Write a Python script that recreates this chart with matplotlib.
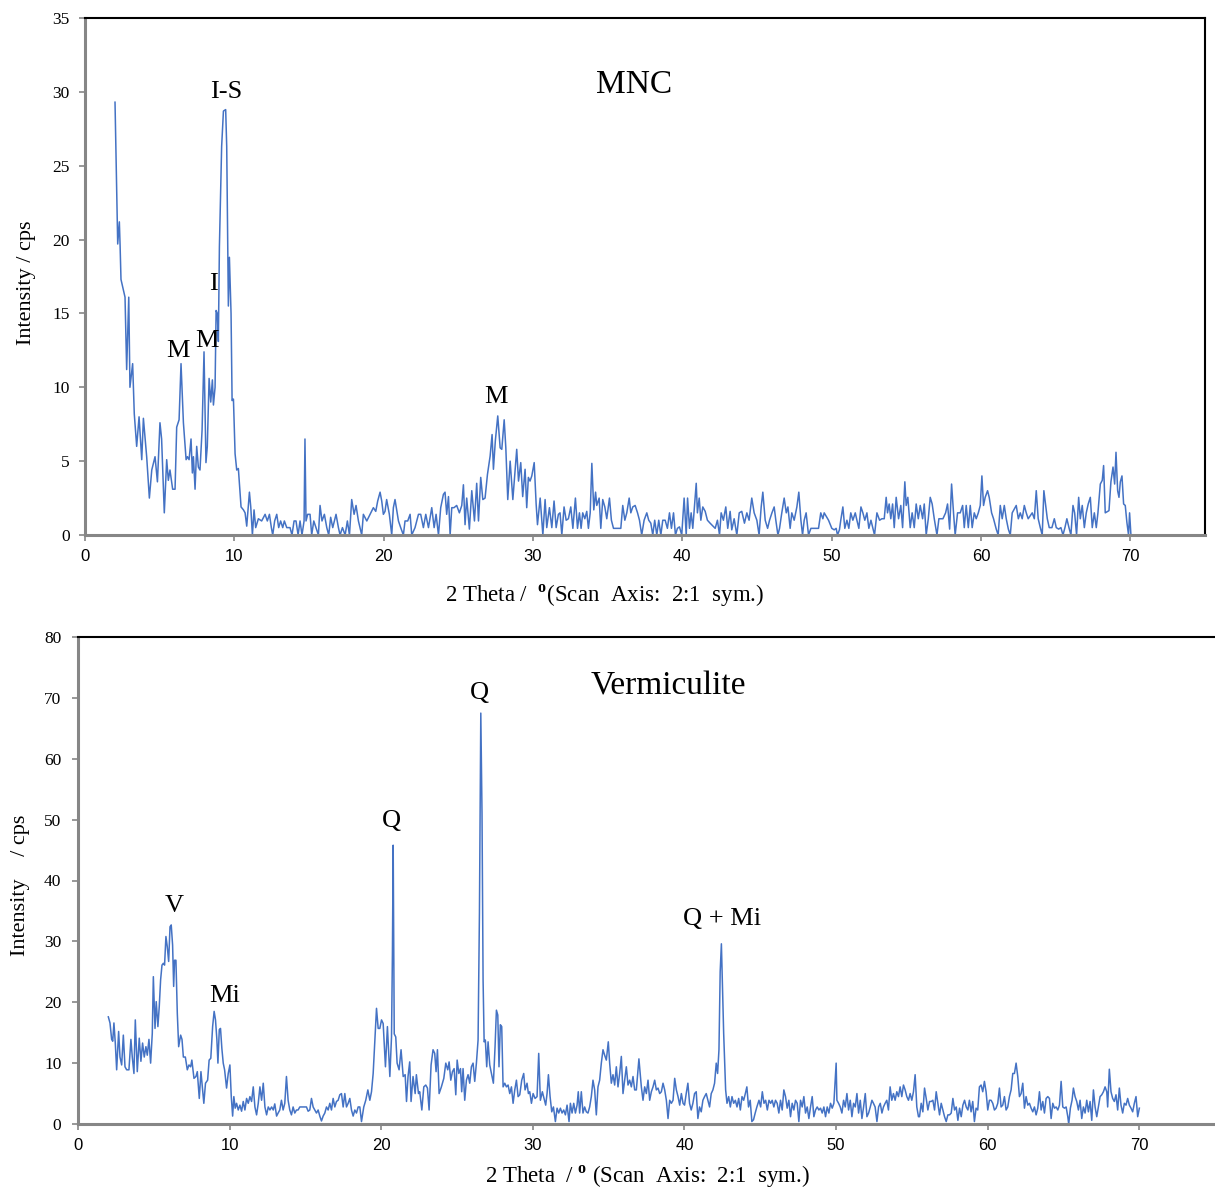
import matplotlib
matplotlib.use('Agg')
import matplotlib.pyplot as plt
import numpy as np

# MNC pattern
mnc_2theta = [
    2.01, 2.19, 2.30, 2.35, 2.41, 2.57, 2.68, 2.79, 2.93, 3.01,
    3.19, 3.30, 3.46, 3.62, 3.80, 3.91, 4.13, 4.31, 4.47, 4.69,
    4.85, 5.02, 5.13, 5.31, 5.47, 5.58, 5.69, 5.87, 6.03, 6.14,
    6.30, 6.43, 6.59, 6.77, 6.86, 6.97, 7.10, 7.19, 7.26, 7.37,
    7.48, 7.59, 7.70, 7.84, 7.97, 8.10, 8.19, 8.31, 8.42, 8.53,
    8.60, 8.71, 8.78, 8.86, 8.93, 9.00, 9.15, 9.27, 9.42, 9.49,
    9.60, 9.67, 9.78, 9.85, 9.94, 10.05, 10.16, 10.27, 10.45, 10.61,
    10.72, 10.83, 11.01, 11.10, 11.21, 11.32, 11.43, 11.61, 11.83, 12.06,
    12.21, 12.35, 12.48, 12.57, 12.70, 12.84, 12.97, 13.10, 13.24, 13.35,
    13.51, 13.73, 13.86, 14.00, 14.13, 14.27, 14.40, 14.53, 14.67, 14.73,
    14.80, 14.91, 15.07, 15.18, 15.32, 15.47, 15.63, 15.74, 15.87, 16.03,
    16.19, 16.32, 16.45, 16.59, 16.81, 16.97, 17.08, 17.24, 17.42, 17.57,
    17.71, 17.86, 18.02, 18.15, 18.31, 18.53, 18.64, 18.87, 19.09, 19.31,
    19.47, 19.60, 19.76, 19.87, 19.98, 20.09, 20.20, 20.38, 20.54, 20.65,
    20.76, 20.99, 21.14, 21.32, 21.43, 21.61, 21.77, 21.88, 22.10, 22.33,
    22.48, 22.66, 22.82, 23.00, 23.22, 23.38, 23.51, 23.67, 23.82, 24.00,
    24.11, 24.22, 24.34, 24.45, 24.56, 24.71, 24.89, 25.07, 25.23, 25.34,
    25.45, 25.56, 25.74, 25.90, 26.08, 26.23, 26.35, 26.50, 26.64, 26.79,
    26.95, 27.13, 27.26, 27.35, 27.48, 27.64, 27.80, 27.91, 28.07, 28.18,
    28.31, 28.47, 28.65, 28.91, 29.03, 29.18, 29.31, 29.47, 29.58, 29.69,
    29.80, 29.92, 30.08, 30.21, 30.30, 30.48, 30.66, 30.81, 30.92, 31.10,
    31.26, 31.41, 31.55, 31.70, 31.81, 31.93, 32.08, 32.22, 32.37, 32.53,
    32.67, 32.84, 32.98, 33.11, 33.22, 33.33, 33.47, 33.60, 33.71, 33.83,
    33.94, 34.07, 34.19, 34.27, 34.43, 34.54, 34.67, 34.81, 34.94, 35.12,
    35.25, 35.39, 35.88, 36.01, 36.15, 36.28, 36.44, 36.55, 36.68, 36.84,
    37.00, 37.13, 37.28, 37.44, 37.62, 37.75, 37.89, 38.02, 38.15, 38.29,
    38.42, 38.56, 38.69, 38.85, 39.00, 39.14, 39.27, 39.41, 39.54, 39.67,
    39.81, 39.96, 40.12, 40.26, 40.35, 40.48, 40.59, 40.70, 40.93, 41.01,
    41.13, 41.24, 41.37, 41.53, 41.68, 41.86, 42.20, 42.35, 42.49, 42.60,
    42.75, 42.91, 43.04, 43.20, 43.31, 43.47, 43.65, 43.81, 43.98, 44.16,
    44.32, 44.47, 44.65, 44.81, 44.99, 45.14, 45.28, 45.39, 45.55, 45.71,
    45.84, 46.00, 46.15, 46.26, 46.40, 46.51, 46.66, 46.82, 46.96, 47.07,
    47.22, 47.33, 47.49, 47.67, 47.80, 47.94, 48.05, 48.16, 48.29, 48.45,
    48.61, 49.12, 49.27, 49.41, 49.50, 49.79, 50.01, 50.17, 50.30, 50.39,
    50.52, 50.61, 50.75, 50.88, 51.02, 51.15, 51.28, 51.42, 51.58, 51.69,
    51.82, 51.96, 52.09, 52.22, 52.36, 52.49, 52.63, 52.76, 52.87, 53.03,
    53.21, 53.36, 53.52, 53.65, 53.74, 53.85, 53.96, 54.08, 54.19, 54.32,
    54.48, 54.63, 54.75, 54.90, 54.99, 55.10, 55.26, 55.39, 55.53, 55.66,
    55.80, 55.93, 56.09, 56.20, 56.33, 56.47, 56.60, 56.73, 56.87, 57.05,
    57.18, 57.45, 57.63, 57.76, 57.90, 58.03, 58.16, 58.27, 58.43, 58.61,
    58.77, 58.88, 59.01, 59.15, 59.28, 59.41, 59.55, 59.68, 59.82, 59.95,
    60.06, 60.17, 60.28, 60.44, 60.55, 60.71, 60.84, 61.02, 61.15, 61.29,
    61.42, 61.56, 61.69, 61.83, 61.96, 62.09, 62.36, 62.50, 62.63, 62.76,
    62.90, 63.03, 63.16, 63.43, 63.57, 63.70, 63.83, 63.97, 64.10, 64.21,
    64.33, 64.44, 64.57, 64.75, 64.91, 65.04, 65.20, 65.35, 65.49, 65.62,
    65.75, 65.89, 66.02, 66.16, 66.27, 66.40, 66.54, 66.65, 66.78, 66.92,
    67.05, 67.18, 67.32, 67.45, 67.59, 67.72, 67.83, 67.99, 68.12, 68.21,
    68.32, 68.57, 68.70, 68.84, 68.95, 69.04, 69.15, 69.24, 69.33, 69.44,
    69.55, 69.66, 69.77, 69.88, 69.95, 70.04,
]
mnc_cps = [
    29.3, 19.7, 21.2, 19.6, 17.3, 16.6, 16.1, 11.2, 16.1, 10.0,
    11.6, 8.2, 6.0, 8.0, 5.1, 7.9, 5.3, 2.5, 4.4, 5.3,
    3.6, 7.6, 6.5, 1.5, 5.1, 3.7, 4.4, 3.1, 3.1, 7.3,
    7.8, 11.6, 7.6, 5.1, 5.3, 5.1, 6.5, 4.2, 5.3, 3.1,
    6.0, 4.6, 4.4, 7.1, 12.4, 4.9, 6.0, 10.6, 9.0, 10.5,
    8.8, 10.0, 15.2, 15.0, 13.1, 19.5, 26.3, 28.7, 28.8, 26.3,
    15.5, 18.8, 15.0, 9.1, 9.2, 5.5, 4.4, 4.5, 1.9, 1.7,
    1.5, 0.6, 2.9, 1.9, 0.0, 1.7, 0.5, 1.1, 0.95, 1.4,
    0.95, 1.4, 0.5, 0.0, 0.95, 1.4, 0.5, 0.95, 0.5, 0.95,
    0.5, 0.5, 0.0, 0.95, 0.95, 0.0, 0.95, 0.0, 0.95, 6.5,
    0.95, 1.4, 1.4, 0.0, 0.95, 0.5, 0.0, 2.0, 0.95, 1.4,
    0.5, 0.0, 1.2, 0.5, 1.4, 0.5, 0.0, 0.5, 0.0, 0.95,
    0.0, 2.4, 1.4, 2.0, 0.95, 0.0, 1.4, 0.95, 1.4, 1.85,
    1.6, 2.3, 2.9, 2.3, 1.4, 1.6, 2.4, 1.4, 0.0, 1.85,
    2.4, 0.95, 0.5, 0.0, 0.95, 0.95, 1.4, 0.0, 0.5, 1.4,
    1.4, 0.5, 1.4, 0.5, 1.85, 0.5, 1.4, 0.0, 1.85, 2.75,
    2.9, 1.4, 2.6, 0.0, 1.85, 1.85, 2.0, 1.5, 2.0, 3.4,
    0.7, 2.5, 0.4, 3.0, 0.95, 3.5, 0.95, 3.9, 2.4, 2.5,
    4.1, 5.35, 6.8, 4.45, 6.4, 8.06, 5.9, 5.8, 7.8, 5.9,
    2.4, 5.0, 2.4, 5.8, 3.65, 4.9, 2.6, 4.45, 1.85, 3.9,
    3.65, 4.0, 4.9, 2.1, 0.7, 2.5, 0.0, 2.4, 0.5, 1.85,
    0.5, 2.3, 0.5, 1.4, 1.5, 0.0, 1.9, 1.0, 1.1, 1.9,
    0.45, 2.5, 0.45, 1.5, 0.45, 1.5, 1.1, 1.6, 0.45, 1.5,
    4.85, 1.7, 2.9, 2.0, 2.5, 0.45, 2.4, 1.9, 1.1, 2.5,
    1.0, 0.45, 0.45, 2.0, 1.0, 1.5, 2.5, 1.5, 1.9, 2.0,
    1.5, 1.0, 0.0, 1.0, 1.5, 1.0, 0.8, 0.0, 1.0, 0.0,
    1.0, 0.0, 1.0, 1.0, 0.45, 1.5, 0.45, 1.5, 0.0, 0.45,
    0.55, 0.0, 2.5, 0.0, 2.5, 0.45, 1.5, 0.45, 3.5, 1.5,
    2.5, 1.0, 1.9, 1.6, 1.0, 0.8, 0.45, 1.0, 0.0, 1.5,
    1.0, 1.9, 0.45, 1.6, 0.35, 1.1, 0.0, 1.5, 1.6, 0.8,
    1.5, 1.0, 2.5, 1.5, 1.0, 0.0, 1.9, 2.9, 1.0, 0.45,
    1.0, 1.5, 1.9, 1.0, 0.0, 0.45, 1.5, 2.5, 1.5, 1.9,
    0.45, 1.5, 1.0, 1.9, 2.9, 1.0, 0.0, 1.0, 1.5, 0.0,
    0.45, 0.45, 1.5, 1.1, 1.5, 1.0, 0.45, 0.35, 0.45, 0.0,
    0.35, 1.0, 1.9, 0.45, 1.0, 0.45, 1.5, 1.0, 1.5, 1.0,
    0.45, 1.9, 1.5, 1.0, 1.5, 0.45, 1.0, 0.45, 0.0, 1.5,
    1.0, 1.1, 1.1, 2.55, 1.5, 2.1, 1.1, 2.1, 0.5, 2.55,
    1.1, 2.0, 0.5, 3.6, 2.0, 2.55, 0.5, 1.5, 0.5, 2.1,
    1.1, 2.0, 1.1, 2.1, 0.0, 1.1, 2.55, 2.1, 1.1, 0.0,
    1.1, 1.1, 1.5, 2.1, 0.4, 3.45, 1.5, 0.0, 1.5, 1.5,
    2.0, 0.5, 2.0, 0.5, 2.0, 0.5, 1.5, 1.1, 1.5, 2.0,
    4.0, 2.0, 2.55, 3.0, 2.55, 1.5, 1.1, 0.4, 0.0, 2.0,
    1.1, 2.0, 1.1, 0.4, 0.0, 1.5, 2.0, 1.1, 1.5, 1.1,
    2.0, 1.5, 1.1, 1.5, 1.1, 3.0, 1.1, 0.5, 0.0, 3.0,
    2.0, 1.1, 0.5, 0.5, 1.1, 0.5, 0.4, 0.5, 0.0, 0.5,
    1.1, 0.5, 0.0, 2.0, 1.5, 0.0, 2.55, 1.1, 2.0, 0.5,
    1.5, 2.1, 2.55, 0.5, 1.5, 0.5, 1.5, 3.45, 3.7, 4.7,
    1.5, 1.65, 3.6, 4.6, 3.45, 5.6, 3.0, 2.55, 3.6, 4.0,
    2.1, 2.0, 0.85, 0.0, 1.5, 0.0,
]

# Vermiculite pattern
verm_2theta = [
    2.00, 2.11, 2.22, 2.29, 2.37, 2.46, 2.55, 2.68, 2.77, 2.88,
    2.99, 3.10, 3.21, 3.36, 3.49, 3.58, 3.69, 3.78, 3.91, 4.04,
    4.15, 4.26, 4.37, 4.48, 4.57, 4.68, 4.79, 4.90, 4.97, 5.08,
    5.16, 5.27, 5.36, 5.45, 5.54, 5.63, 5.71, 5.80, 5.89, 5.98,
    6.07, 6.15, 6.24, 6.31, 6.37, 6.46, 6.55, 6.64, 6.77, 6.86,
    6.95, 7.08, 7.21, 7.32, 7.43, 7.51, 7.65, 7.78, 7.87, 8.00,
    8.11, 8.22, 8.30, 8.41, 8.55, 8.65, 8.76, 8.88, 8.98, 9.07,
    9.16, 9.23, 9.32, 9.40, 9.49, 9.58, 9.67, 9.80, 9.91, 10.02,
    10.11, 10.20, 10.28, 10.37, 10.46, 10.57, 10.68, 10.79, 10.90, 11.01,
    11.12, 11.23, 11.34, 11.45, 11.56, 11.67, 11.78, 11.89, 12.00, 12.11,
    12.22, 12.33, 12.44, 12.55, 12.66, 12.77, 12.88, 12.98, 13.10, 13.20,
    13.31, 13.42, 13.53, 13.64, 13.75, 13.86, 13.97, 14.08, 14.19, 14.30,
    14.41, 14.52, 14.63, 14.85, 15.07, 15.18, 15.29, 15.40, 15.51, 15.62,
    15.73, 15.84, 15.95, 16.06, 16.17, 16.28, 16.39, 16.50, 16.61, 16.72,
    16.83, 16.94, 17.05, 17.16, 17.27, 17.38, 17.49, 17.60, 17.71, 17.82,
    17.93, 18.04, 18.15, 18.26, 18.37, 18.48, 18.59, 18.70, 18.85, 18.98,
    19.12, 19.25, 19.36, 19.47, 19.58, 19.69, 19.80, 19.91, 20.02, 20.13,
    20.28, 20.41, 20.57, 20.68, 20.74, 20.79, 20.86, 20.96, 21.05, 21.18,
    21.31, 21.45, 21.58, 21.67, 21.77, 21.88, 21.97, 22.10, 22.24, 22.32,
    22.46, 22.54, 22.68, 22.81, 22.94, 23.05, 23.16, 23.29, 23.42, 23.53,
    23.62, 23.71, 23.82, 23.97, 24.13, 24.26, 24.39, 24.48, 24.59, 24.70,
    24.81, 24.92, 25.01, 25.12, 25.23, 25.31, 25.40, 25.51, 25.62, 25.73,
    25.84, 25.95, 26.06, 26.17, 26.28, 26.39, 26.48, 26.57, 26.65, 26.72,
    26.79, 26.87, 26.96, 27.05, 27.16, 27.27, 27.40, 27.51, 27.60, 27.69,
    27.77, 27.86, 27.95, 28.04, 28.15, 28.26, 28.37, 28.48, 28.59, 28.70,
    28.81, 28.92, 29.03, 29.14, 29.27, 29.40, 29.49, 29.62, 29.71, 29.80,
    29.91, 30.02, 30.15, 30.28, 30.39, 30.50, 30.63, 30.74, 30.85, 30.94,
    31.03, 31.14, 31.25, 31.36, 31.49, 31.60, 31.71, 31.82, 31.93, 32.04,
    32.15, 32.26, 32.39, 32.48, 32.59, 32.70, 32.81, 32.92, 33.00, 33.09,
    33.20, 33.31, 33.42, 33.53, 33.64, 33.75, 33.86, 33.97, 34.08, 34.19,
    34.30, 34.41, 34.52, 34.63, 34.74, 34.85, 34.98, 35.07, 35.18, 35.29,
    35.40, 35.51, 35.62, 35.73, 35.84, 35.95, 36.06, 36.17, 36.28, 36.39,
    36.50, 36.61, 36.72, 36.83, 37.00, 37.16, 37.27, 37.38, 37.49, 37.60,
    37.71, 37.82, 37.93, 38.04, 38.15, 38.26, 38.37, 38.48, 38.59, 38.70,
    38.81, 38.92, 39.03, 39.14, 39.25, 39.36, 39.47, 39.58, 39.69, 39.80,
    39.91, 40.01, 40.12, 40.23, 40.34, 40.45, 40.56, 40.67, 40.78, 40.89,
    41.00, 41.11, 41.22, 41.33, 41.44, 41.55, 41.66, 41.77, 41.88, 41.99,
    42.10, 42.19, 42.28, 42.36, 42.44, 42.59, 42.72, 42.81, 42.92, 43.03,
    43.14, 43.25, 43.36, 43.47, 43.58, 43.69, 43.80, 43.91, 44.02, 44.12,
    44.23, 44.34, 44.45, 44.56, 44.67, 44.78, 44.92, 45.03, 45.14, 45.25,
    45.36, 45.47, 45.58, 45.69, 45.79, 45.90, 46.01, 46.12, 46.23, 46.34,
    46.45, 46.56, 46.67, 46.78, 46.89, 47.00, 47.11, 47.22, 47.33, 47.44,
    47.55, 47.66, 47.77, 47.88, 47.99, 48.10, 48.21, 48.32, 48.43, 48.54,
    48.65, 48.76, 48.87, 48.98, 49.09, 49.20, 49.31, 49.42, 49.53, 49.64,
    49.75, 49.86, 50.01, 50.06, 50.17, 50.28, 50.39, 50.50, 50.61, 50.72,
    50.83, 50.94, 51.05, 51.16, 51.27, 51.38, 51.49, 51.60, 51.71, 51.82,
    51.93, 52.04, 52.15, 52.26, 52.37, 52.47, 52.58, 52.70, 52.81, 52.92,
    53.03, 53.13, 53.24, 53.35, 53.46, 53.57, 53.68, 53.79, 53.90, 54.01,
    54.12, 54.23, 54.34, 54.45, 54.56, 54.67, 54.78, 54.89, 55.00, 55.11,
    55.22, 55.33, 55.44, 55.51, 55.62, 55.73, 55.84, 55.95, 56.06, 56.17,
    56.28, 56.39, 56.50, 56.61, 56.72, 56.83, 56.94, 57.05, 57.16, 57.27,
    57.38, 57.49, 57.60, 57.71, 57.82, 57.93, 58.04, 58.15, 58.26, 58.37,
    58.48, 58.59, 58.70, 58.80, 58.91, 59.02, 59.13, 59.24, 59.35, 59.46,
    59.57, 59.68, 59.79, 59.90, 60.01, 60.12, 60.23, 60.34, 60.45, 60.56,
    60.67, 60.78, 60.89, 61.00, 61.11, 61.22, 61.33, 61.44, 61.55, 61.66,
    61.77, 61.88, 61.99, 62.10, 62.21, 62.32, 62.43, 62.54, 62.65, 62.76,
    62.87, 62.98, 63.09, 63.20, 63.31, 63.42, 63.53, 63.64, 63.75, 63.86,
    63.97, 64.08, 64.19, 64.30, 64.41, 64.52, 64.63, 64.74, 64.85, 64.96,
    65.07, 65.18, 65.29, 65.35, 65.46, 65.57, 65.66, 65.77, 65.88, 65.99,
    66.10, 66.21, 66.32, 66.43, 66.54, 66.65, 66.76, 66.87, 66.98, 67.09,
    67.20, 67.31, 67.42, 67.53, 67.64, 67.75, 67.86, 67.92, 68.03, 68.14,
    68.25, 68.36, 68.47, 68.58, 68.69, 68.80, 68.91, 69.02, 69.13, 69.24,
    69.35, 69.46, 69.57, 69.68, 69.79, 69.90, 70.01,
]
verm_cps = [
    17.6, 16.6, 13.9, 13.6, 16.6, 13.3, 8.9, 15.2, 11.0, 9.7,
    14.6, 9.4, 8.9, 8.9, 13.9, 11.0, 8.3, 17.1, 8.6, 14.1,
    10.3, 13.3, 11.0, 12.7, 11.3, 13.9, 10.0, 14.9, 24.2, 15.7,
    20.1, 16.0, 19.3, 23.7, 26.1, 26.4, 26.1, 30.8, 29.1, 26.7,
    32.4, 32.7, 29.4, 22.6, 26.9, 26.9, 18.2, 12.7, 14.6, 13.9,
    11.0, 11.0, 8.9, 9.7, 9.4, 10.5, 7.5, 7.8, 8.6, 4.2,
    8.6, 5.6, 3.4, 6.7, 7.2, 10.5, 10.8, 16.0, 18.5, 17.1,
    13.9, 10.0, 15.5, 15.7, 12.4, 10.0, 8.9, 5.9, 8.3, 9.7,
    4.5, 1.3, 4.5, 2.6, 3.4, 2.3, 3.1, 2.1, 3.7, 2.3,
    4.2, 3.4, 4.5, 3.7, 6.1, 2.8, 1.5, 3.4, 6.1, 3.9,
    6.7, 2.8, 1.5, 2.8, 2.3, 2.8, 2.3, 3.3, 1.3, 1.8,
    2.3, 3.9, 2.3, 3.4, 7.8, 3.9, 2.3, 1.5, 2.8, 1.8,
    2.3, 2.3, 2.8, 2.8, 2.8, 2.1, 2.3, 4.2, 2.8, 2.3,
    1.8, 2.3, 1.3, 0.5, 1.3, 1.8, 2.8, 2.3, 3.4, 2.3,
    4.2, 2.8, 3.7, 3.9, 4.8, 5.0, 2.8, 5.0, 2.8, 3.4,
    4.2, 2.3, 1.3, 2.3, 1.8, 2.8, 2.8, 0.4, 2.8, 3.9,
    5.6, 3.9, 5.3, 8.3, 13.8, 19.0, 15.7, 15.7, 17.1, 16.5,
    9.4, 16.0, 7.8, 14.3, 28.0, 45.8, 14.8, 14.3, 10.0, 8.9,
    12.2, 7.8, 8.1, 3.7, 7.8, 10.2, 3.7, 7.8, 5.0, 8.1,
    5.0, 5.3, 2.3, 6.1, 6.4, 5.9, 2.3, 9.7, 12.2, 11.6,
    8.6, 12.2, 5.0, 6.1, 7.5, 10.0, 8.9, 10.2, 7.2, 8.6,
    9.1, 4.8, 10.5, 8.3, 9.1, 5.3, 9.1, 3.9, 7.2, 8.1,
    6.7, 9.4, 10.0, 7.0, 10.0, 13.8, 34.6, 67.5, 51.0, 23.7,
    13.5, 13.8, 9.4, 13.5, 9.7, 8.3, 6.7, 12.7, 18.7, 17.9,
    9.4, 16.3, 16.0, 6.1, 6.7, 6.1, 6.4, 5.0, 6.1, 3.4,
    5.6, 7.2, 4.5, 4.8, 7.2, 8.3, 5.6, 6.7, 5.0, 5.3,
    3.4, 5.0, 4.2, 4.5, 11.6, 3.9, 5.3, 4.2, 3.1, 5.0,
    8.1, 4.5, 2.0, 2.8, 0.4, 2.6, 1.8, 2.6, 1.8, 2.3,
    1.5, 3.1, 0.4, 3.4, 1.8, 3.4, 1.8, 3.1, 5.3, 1.8,
    5.3, 1.8, 2.8, 2.0, 1.8, 2.8, 4.5, 7.2, 5.6, 1.5,
    6.1, 7.2, 10.0, 12.2, 11.3, 10.5, 13.5, 10.0, 6.7, 8.1,
    6.4, 9.4, 6.1, 8.3, 11.1, 5.0, 7.2, 9.4, 6.4, 7.2,
    6.1, 7.8, 5.6, 5.6, 10.7, 6.1, 3.9, 6.1, 5.0, 7.2,
    3.9, 5.3, 6.1, 7.2, 5.6, 5.9, 5.0, 5.3, 6.7, 5.6,
    3.9, 0.9, 3.9, 3.4, 3.9, 7.5, 5.6, 4.5, 3.1, 5.0,
    3.4, 3.1, 5.0, 6.7, 3.4, 2.3, 3.4, 5.0, 5.3, 0.9,
    2.8, 2.0, 3.9, 4.5, 5.0, 3.9, 2.8, 5.0, 5.6, 6.7,
    10.0, 8.3, 12.2, 25.0, 29.6, 14.9, 5.6, 3.4, 4.5, 2.8,
    4.5, 3.4, 3.9, 2.8, 4.2, 2.3, 4.5, 3.9, 5.0, 6.1,
    2.8, 3.9, 0.4, 0.7, 1.8, 2.8, 3.9, 2.8, 5.3, 3.4,
    3.9, 2.3, 3.9, 3.4, 3.9, 2.8, 3.9, 3.4, 1.8, 3.9,
    2.3, 5.6, 4.5, 2.6, 3.9, 1.2, 3.4, 2.3, 3.9, 3.4,
    0.4, 3.9, 2.8, 4.5, 1.8, 2.8, 0.9, 2.8, 4.5, 1.2,
    2.3, 2.8, 2.3, 2.6, 1.8, 2.8, 1.2, 2.8, 1.8, 3.4,
    2.6, 3.4, 10.0, 3.9, 3.4, 2.8, 1.8, 3.9, 2.8, 5.0,
    2.3, 3.9, 1.2, 3.4, 2.8, 5.0, 1.8, 3.9, 0.9, 2.8,
    5.0, 1.2, 1.8, 2.8, 3.9, 3.4, 2.8, 0.4, 2.8, 3.4,
    1.8, 2.8, 3.4, 3.9, 2.3, 6.1, 3.9, 5.0, 3.9, 5.3,
    4.5, 6.1, 4.5, 6.4, 5.6, 4.5, 3.9, 5.0, 3.9, 5.3,
    8.1, 2.8, 1.2, 1.2, 3.4, 2.0, 5.9, 4.2, 2.3, 3.7,
    3.7, 3.9, 2.3, 5.3, 3.4, 1.5, 3.4, 2.3, 1.2, 0.4,
    1.5, 1.5, 1.8, 4.2, 2.3, 2.8, 0.6, 2.6, 1.2, 3.1,
    3.9, 2.8, 2.3, 3.9, 2.0, 3.7, 0.4, 2.6, 2.3, 6.1,
    6.4, 5.3, 7.0, 5.3, 2.3, 3.9, 3.9, 3.4, 2.3, 2.6,
    3.4, 5.9, 2.8, 3.1, 4.5, 2.3, 2.8, 4.5, 5.6, 8.3,
    8.3, 10.0, 7.8, 4.5, 5.0, 6.7, 2.6, 4.5, 3.1, 3.4,
    2.6, 2.0, 2.8, 1.5, 2.6, 5.3, 2.3, 3.7, 1.8, 4.2,
    4.5, 4.2, 0.9, 3.4, 2.6, 2.8, 2.3, 3.1, 7.0, 2.8,
    2.6, 2.8, 1.2, 0.0, 2.6, 3.9, 5.9, 4.5, 3.7, 2.3,
    3.9, 0.9, 2.8, 1.8, 3.9, 2.0, 3.7, 0.6, 5.6, 2.8,
    1.2, 2.8, 4.5, 4.8, 5.3, 6.1, 5.3, 2.8, 9.0, 5.3,
    4.2, 3.7, 4.8, 2.3, 5.9, 3.1, 1.8, 3.4, 3.1, 4.2,
    3.1, 2.6, 2.0, 3.4, 4.5, 1.2, 2.6,
]

# peak labels: (text, 2theta, cps)
mnc_peaks = [('I-S', 9.44, 30.0), ('I', 8.57, 17.0), ('M', 6.23, 12.46),
             ('M', 8.17, 13.1), ('M', 27.5, 9.34)]
verm_peaks = [('Q', 26.5, 70.8), ('Q', 20.7, 49.8), ('V', 6.33, 35.8),
              ('Mi', 9.69, 21.0), ('Q + Mi', 42.5, 33.7)]

blue = '#4472C4'
grey = '#868686'
serif = 'Liberation Serif'
sans = 'Liberation Sans'

plt.rcParams['mathtext.fontset'] = 'custom'
plt.rcParams['mathtext.rm'] = serif
plt.rcParams['mathtext.bf'] = serif + ':bold'

W, H = 1215, 1189
fig = plt.figure(figsize=(W / 100, H / 100), dpi=100)
ax1 = fig.add_axes([85 / W, 1 - 535 / H, 1120 / W, 517 / H])
ax2 = fig.add_axes([78 / W, 1 - 1124 / H, 1137 / W, 487 / H])


def style(ax, ymax, ystep, ypad):
    ax.set_xlim(0, 75)
    ax.set_ylim(0, ymax)
    ax.set_xticks(np.arange(0, 71, 10))
    ax.set_yticks(np.arange(0, ymax + 1, ystep))
    for s in ['left', 'bottom']:
        ax.spines[s].set_color(grey)
        ax.spines[s].set_linewidth(2.2)
    for s in ['top', 'right']:
        ax.spines[s].set_color('black')
        ax.spines[s].set_linewidth(1.5)
    ax.tick_params(axis='both', direction='out', length=4, width=1.2, color=grey)
    ax.tick_params(axis='x', pad=6, labelsize=12)
    ax.tick_params(axis='y', pad=ypad, labelsize=12.5)
    for lab in ax.get_xticklabels():
        lab.set_fontfamily(sans)
    for lab in ax.get_yticklabels():
        lab.set_fontfamily(serif)


deg = r'$^{\mathbf{o}}$'

# top panel
ax1.plot(mnc_2theta, mnc_cps, color=blue, lw=1.1)
style(ax1, 35, 5, 7)
ax1.text(36.8, 30.5, 'MNC', fontsize=24, family=serif, ha='center', va='center')
for t, x, y in mnc_peaks:
    ax1.text(x, y, t, fontsize=19, family=serif, ha='center', va='center')
ax1.set_xlabel('2 Theta /  ' + deg + '(Scan  Axis:  2:1  sym.)', fontsize=16.5, family=serif)
ax1.xaxis.label.set_va('center')
ax1.xaxis.set_label_coords(0.464, -0.118)
ax1.set_ylabel('Intensity / cps', fontsize=16, family=serif)
ax1.yaxis.label.set_va('center')
ax1.yaxis.set_label_coords(-0.052, 0.487)

# bottom panel
ax2.plot(verm_2theta, verm_cps, color=blue, lw=1.1)
style(ax2, 80, 10, 8)
ax2.spines['right'].set_visible(False)
ax2.text(38.96, 71.95, 'Vermiculite', fontsize=24, family=serif, ha='center', va='center')
for t, x, y in verm_peaks:
    ax2.text(x, y, t, fontsize=19, family=serif, ha='center', va='center')
ax2.set_xlabel('2 Theta  / ' + deg + ' (Scan  Axis:  2:1  sym.)', fontsize=16.5, family=serif)
ax2.xaxis.label.set_va('center')
ax2.xaxis.set_label_coords(0.501, -0.109)
ax2.set_ylabel('Intensity    / cps', fontsize=16, family=serif)
ax2.yaxis.label.set_va('center')
ax2.yaxis.set_label_coords(-0.051, 0.491)

fig.savefig('out.png', dpi=100)
